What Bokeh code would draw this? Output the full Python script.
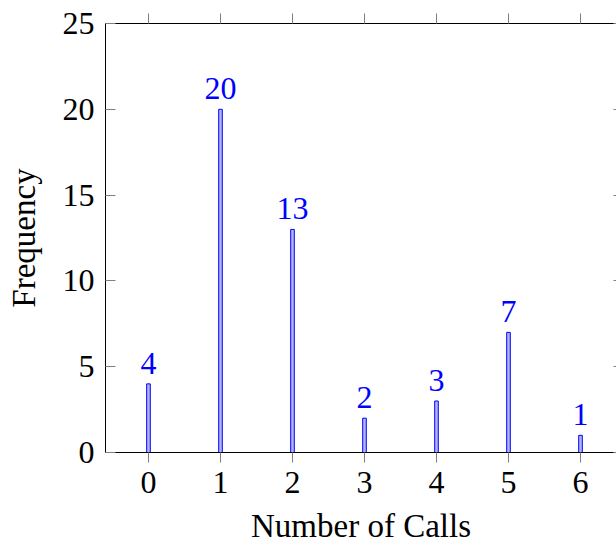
from bokeh.plotting import figure
from bokeh.models import LinearAxis, FixedTicker, Range1d, ColumnDataSource, LabelSet, CustomJSTickFormatter
from bokeh.embed import file_html
from bokeh.resources import INLINE

calls = [0, 1, 2, 3, 4, 5, 6]
frequency = [4, 20, 13, 2, 3, 7, 1]
x_ticks = [0, 1, 2, 3, 4, 5, 6]
y_ticks = [0, 5, 10, 15, 20, 25]

FONT = "Liberation Serif"
FS = "32px"
AFS = "33px"

src = ColumnDataSource(dict(x=calls, y=frequency, lab=[str(v) for v in frequency]))

p = figure(width=616, height=546, output_backend="svg", toolbar_location=None,
           x_range=Range1d(-0.597, 6.5), y_range=Range1d(0, 25),
           min_border_left=105, min_border_top=23, min_border_bottom=93, min_border_right=0,
           x_axis_location=None, y_axis_location=None)
p.outline_line_color = None
p.grid.visible = False
p.background_fill_color = "white"
p.border_fill_color = "white"

p.vbar(x="x", top="y", bottom=0, width=0.05, source=src,
       fill_color="#b3b3ff", line_color="#0000ff", line_width=1)

labels = LabelSet(x="x", y="y", text="lab", source=src, text_align="center",
                  text_baseline="alphabetic", y_offset=10, text_color="#0000ff",
                  text_font=FONT, text_font_size=FS)
p.add_layout(labels)

def style(ax):
    ax.axis_line_color = "black"
    ax.axis_line_width = 1
    ax.major_tick_line_color = "#808080"
    ax.minor_tick_line_color = None
    ax.major_label_text_font = FONT
    ax.major_label_text_font_size = FS
    ax.major_label_text_color = "black"
    ax.axis_label_text_font = FONT
    ax.axis_label_text_font_size = AFS
    ax.axis_label_text_font_style = "normal"
    ax.axis_label_text_color = "black"

blank = CustomJSTickFormatter(code="return '';")

bottom = LinearAxis(ticker=FixedTicker(ticks=x_ticks), axis_label="Number of Calls")
style(bottom)
bottom.major_tick_in = 0
bottom.major_tick_out = 10
bottom.major_label_standoff = 9
bottom.axis_label_standoff = 12
p.add_layout(bottom, "below")

left = LinearAxis(ticker=FixedTicker(ticks=y_ticks), axis_label="Frequency")
style(left)
left.major_tick_in = 10
left.major_tick_out = 0
left.major_label_standoff = 11
left.axis_label_standoff = 18
p.add_layout(left, "left")

top = LinearAxis(ticker=FixedTicker(ticks=x_ticks), formatter=blank)
style(top)
top.major_tick_in = 0
top.major_tick_out = 10
top.major_label_standoff = 0
p.add_layout(top, "above")

right = LinearAxis(ticker=FixedTicker(ticks=y_ticks), formatter=blank)
style(right)
right.axis_line_color = None
right.major_tick_in = 3
right.major_tick_out = 0
right.major_label_standoff = 0
p.add_layout(right, "right")

open("out.html", "w").write(file_html(p, INLINE))
